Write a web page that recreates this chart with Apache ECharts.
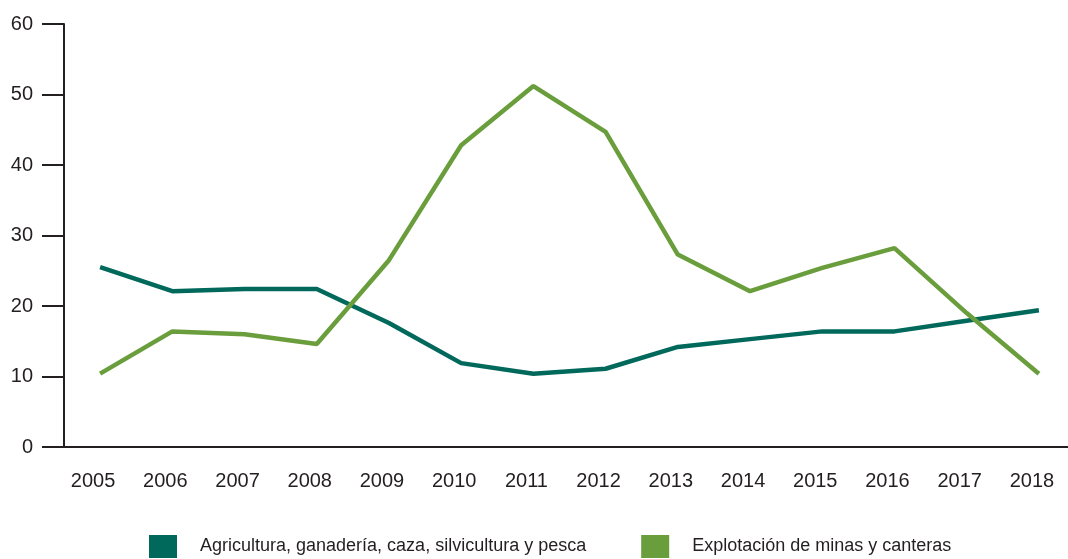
<!DOCTYPE html>
<html>
<head>
<meta charset="utf-8">
<script src="https://cdn.jsdelivr.net/npm/echarts@6/dist/echarts.min.js"></script>
<style>
  html, body { margin: 0; padding: 0; background: #fff; overflow: hidden; }
  #chart { width: 1075px; height: 559px; }
</style>
</head>
<body>
<div id="chart"></div>
<script>
const years = ['2005', '2006', '2007', '2008', '2009', '2010', '2011', '2012', '2013', '2014', '2015', '2016', '2017', '2018'];
const agricultura = [25.5, 22.1, 22.4, 22.4, 17.6, 11.9, 10.4, 11.1, 14.2, 15.3, 16.4, 16.4, 17.9, 19.4];
const minas = [10.4, 16.4, 16.0, 14.6, 26.5, 42.8, 51.2, 44.7, 27.3, 22.1, 25.4, 28.2, 19.0, 10.4];

const textColor = '#231f20';
const font = '"Liberation Sans", Arial, sans-serif';

const chart = echarts.init(document.getElementById('chart'));
chart.setOption({
    animation: false,
    grid: {
        left: 64,
        top: 24,
        right: 0,
        bottom: 112
    },
    legend: {
        left: 149,
        top: 535,
        padding: 0,
        itemWidth: 28,
        itemHeight: 23,
        itemGap: 55,
        icon: 'rect',
        textStyle: {
            color: textColor,
            fontFamily: font,
            fontSize: 18,
            padding: [0, 0, 0, 18]
        },
        data: ['Agricultura, ganadería, caza, silvicultura y pesca', 'Explotación de minas y canteras']
    },
    xAxis: {
        type: 'category',
        data: years,
        boundaryGap: true,
        axisLine: { lineStyle: { color: textColor, width: 2 } },
        axisTick: { show: false },
        axisLabel: {
            color: textColor,
            fontFamily: font,
            fontSize: 20,
            margin: 24,
            padding: [0, 14, 0, 0]
        }
    },
    yAxis: {
        type: 'value',
        min: 0,
        max: 60,
        interval: 10,
        splitLine: { show: false },
        axisLine: { show: true, lineStyle: { color: textColor, width: 2 } },
        axisTick: { show: true, length: 22, lineStyle: { color: textColor, width: 2 } },
        axisLabel: {
            color: textColor,
            fontFamily: font,
            fontSize: 20,
            margin: 31
        }
    },
    series: [
        {
            name: 'Agricultura, ganadería, caza, silvicultura y pesca',
            type: 'line',
            data: agricultura,
            symbol: 'none',
            itemStyle: { color: '#00695c' },
            lineStyle: { color: '#00695c', width: 4.5 }
        },
        {
            name: 'Explotación de minas y canteras',
            type: 'line',
            data: minas,
            symbol: 'none',
            itemStyle: { color: '#6a9e3c' },
            lineStyle: { color: '#6a9e3c', width: 4.5 }
        }
    ]
});
</script>
</body>
</html>
